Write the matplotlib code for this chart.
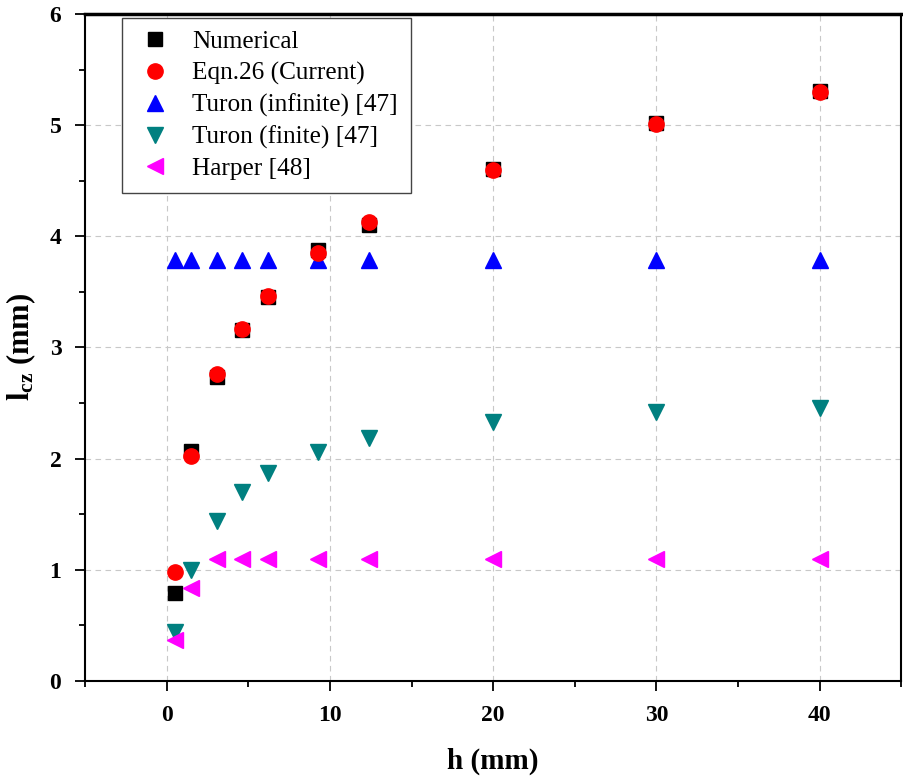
import matplotlib.pyplot as plt
import numpy as np

# data
h = [0.5, 1.5, 3.1, 4.6, 6.2, 9.3, 12.4, 20, 30, 40]
numerical = [0.79, 2.07, 2.73, 3.16, 3.45, 3.88, 4.10, 4.61, 5.02, 5.31]
eqn26 = [0.98, 2.02, 2.76, 3.17, 3.46, 3.85, 4.13, 4.60, 5.01, 5.30]
turon_inf = [3.79, 3.79, 3.79, 3.79, 3.79, 3.79, 3.79, 3.79, 3.79, 3.79]
turon_fin = [0.44, 1.00, 1.44, 1.70, 1.87, 2.06, 2.19, 2.33, 2.42, 2.46]
harper = [0.37, 0.84, 1.10, 1.10, 1.10, 1.10, 1.10, 1.10, 1.10, 1.10]

plt.rcParams['font.family'] = 'Liberation Serif'
plt.rcParams['mathtext.fontset'] = 'custom'
plt.rcParams['mathtext.rm'] = 'Liberation Serif:bold'
plt.rcParams['mathtext.it'] = 'Liberation Serif:bold'
plt.rcParams['mathtext.bf'] = 'Liberation Serif:bold'

fig = plt.figure(figsize=(9.04, 7.77), dpi=100)
ax = fig.add_axes([0.094, 0.1236, 0.903, 0.8584])

ax.plot(h, numerical, 's', color='black', ms=10, label='Numerical', zorder=3)
ax.plot(h, eqn26, 'o', color='red', ms=11, label='Eqn.26 (Current)', zorder=4)
ax.plot(h, turon_inf, '^', color='blue', ms=11, label='Turon (infinite) [47]', zorder=3)
ax.plot(h, turon_fin, 'v', color='#008080', ms=11, label='Turon (finite) [47]', zorder=3)
ax.plot(h, harper, '<', color='magenta', ms=11, label='Harper [48]', zorder=3)

ax.set_xlim(-5, 45)
ax.set_ylim(0, 6)
ax.set_xticks([0, 10, 20, 30, 40])
ax.set_xticks(np.arange(-5, 46, 5), minor=True)
ax.set_yticks(range(0, 7))
ax.set_yticks(np.arange(0, 6.01, 0.5), minor=True)
ax.tick_params(which='major', direction='out', length=7, width=1.3, labelsize=17)
ax.tick_params(axis='x', which='major', pad=10)
ax.tick_params(axis='y', which='major', pad=10)
ax.tick_params(which='minor', direction='out', length=4, width=1.3)
for lbl in ax.get_xticklabels() + ax.get_yticklabels():
    lbl.set_fontweight('bold')
for s in ax.spines.values():
    s.set_linewidth(1.5)
ax.spines['top'].set_linewidth(2.5)

ax.grid(True, which='major', linestyle=(0, (5, 4)), color='#c8c8c8', linewidth=0.8)
ax.set_axisbelow(True)

ax.set_xlabel('h (mm)', fontsize=21, fontweight='bold', labelpad=16)
ax.set_ylabel(r'l$_{\mathrm{cz}}$ (mm)', fontsize=22, fontweight='bold', labelpad=8)

leg = ax.legend(loc='upper left', bbox_to_anchor=(0.045, 0.994), borderaxespad=0,
                fontsize=18.2, fancybox=False, edgecolor='#444444', framealpha=1,
                handletextpad=0.7, labelspacing=0.34, borderpad=0.5, handlelength=1.6)
leg.get_frame().set_linewidth(1.0)

plt.savefig('out.png', dpi=100)
